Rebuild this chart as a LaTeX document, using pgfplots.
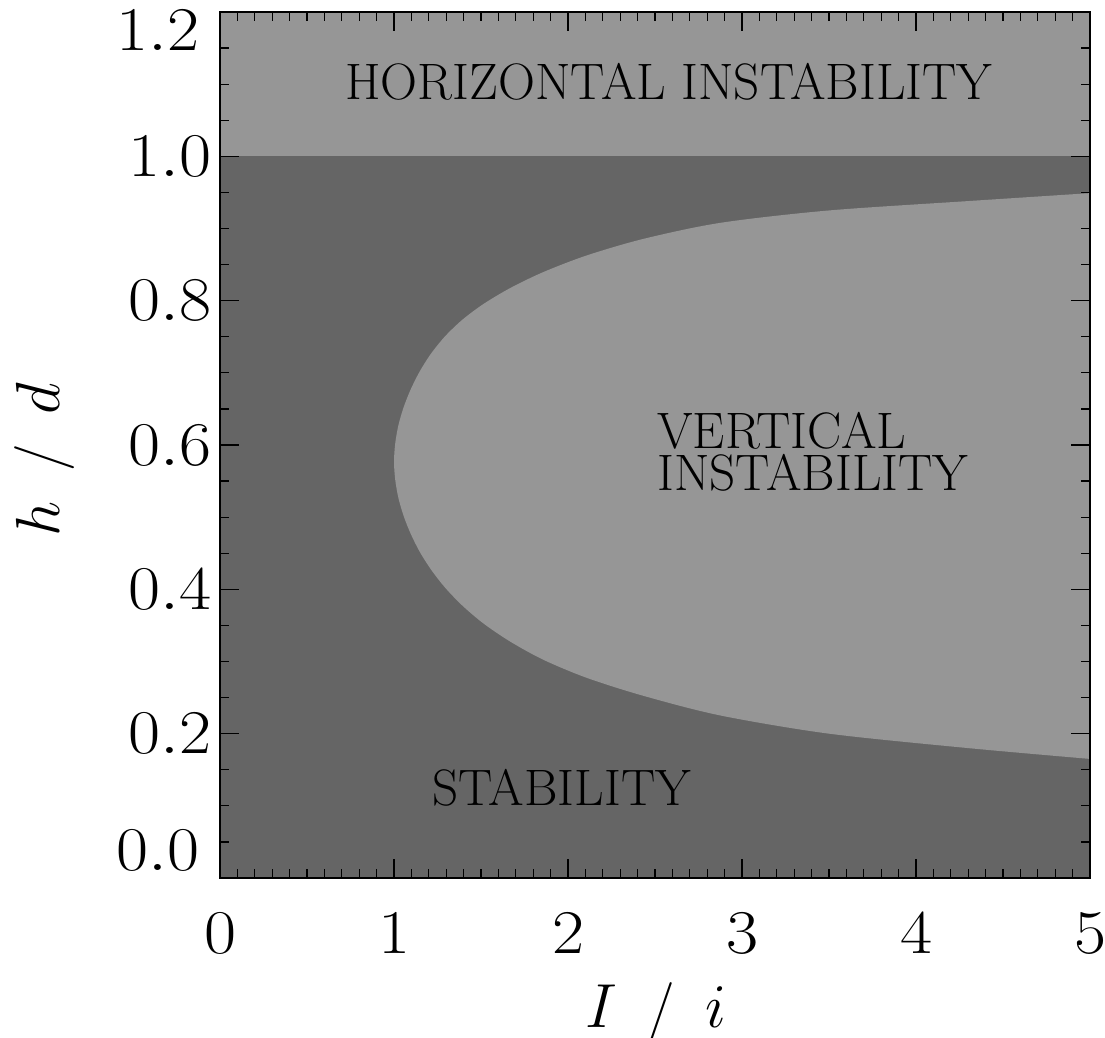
\documentclass[border=0pt]{standalone}
\usepackage{pgfplots}
\pgfplotsset{compat=1.18}
\definecolor{darkreg}{RGB}{101,101,101}
\definecolor{lightreg}{RGB}{150,150,150}
\newcommand{\tickfont}{\fontsize{24}{28}\selectfont}
\newcommand{\regfont}{\fontsize{20.5}{16.8}\selectfont}
\newcommand{\tl}[1]{\scalebox{1.12}[1]{$#1$}}
\pgfplotstableread{
x y
5.000 0.949
4.300 0.938
3.500 0.925
2.880 0.908
2.440 0.886
2.112 0.863
1.862 0.840
1.672 0.818
1.518 0.796
1.395 0.774
1.295 0.751
1.214 0.727
1.148 0.702
1.096 0.677
1.055 0.652
1.025 0.627
1.007 0.602
1.000 0.577
1.007 0.552
1.025 0.527
1.055 0.502
1.096 0.477
1.148 0.452
1.214 0.427
1.295 0.402
1.395 0.377
1.518 0.352
1.672 0.327
1.862 0.302
2.112 0.277
2.440 0.252
2.880 0.225
3.500 0.200
4.300 0.180
5.000 0.165
}\vertreg
\begin{document}
\begin{tikzpicture}
\begin{axis}[
  name=ax, scale only axis, width=348pt, height=346.4pt,
  xmin=0, xmax=5, ymin=0, ymax=1.2,
  clip=false,
  axis on top,
  axis background/.style={fill=darkreg},
  axis line style={line width=1pt, black},
  xtick={0,1,2,3,4,5}, minor x tick num=9,
  xticklabels={\tl{0},\tl{1},\tl{2},\tl{3},\tl{4},\tl{5}},
  ytick={0,0.2,0.4,0.6,0.8,1.0,1.2}, minor y tick num=3,
  yticklabels={{},\tl{0.2},\tl{0.4},\tl{0.6},\tl{0.8},\tl{1.0},{}},
  tick align=inside, tick pos=both,
  major tick length=7.5pt, minor tick length=3.8pt,
  every tick/.style={black, line width=0.5pt},
  tick label style={font=\tickfont},
  xticklabel style={yshift=-10.5pt},
  xlabel={$I$\hspace{0.5em}/\hspace{0.5em}$i$},
  ylabel={$h$\hspace{0.5em}/\hspace{0.5em}$d$},
  label style={font=\tickfont},
  xlabel style={at={(axis description cs:0.501,-0.173)}, anchor=base},
  ylabel style={at={(axis description cs:-0.184,0.483)}, anchor=base},
]
\addplot[fill=lightreg, draw=none] coordinates {(0,1) (5,1) (5,1.2) (0,1.2)} -- cycle;
\addplot[fill=lightreg, draw=none, smooth] table[x=x, y=y] {\vertreg} -- cycle;
\node[anchor=north east, inner sep=0pt, font=\tickfont, xshift=-8pt, yshift=0.8pt] at (axis cs:0,1.2) {\tl{1.2}};
\node[anchor=south east, inner sep=0pt, font=\tickfont, xshift=-8pt, yshift=3pt] at (axis cs:0,0) {\tl{0.0}};
\node[anchor=base west, inner sep=0pt, font=\regfont] at (axis cs:0.718,1.079) {HORIZONTAL INSTABILITY};
\node[anchor=north west, inner sep=0pt, font=\regfont, align=left] at (axis cs:2.511,0.646) {VERTICAL\\INSTABILITY};
\node[anchor=base west, inner sep=0pt, font=\regfont] at (axis cs:1.218,0.100) {STABILITY};
\end{axis}
\pgfresetboundingbox
\path[use as bounding box] (ax.south west) ++(-88pt,-64pt) rectangle ++(442pt,415.2pt);
\end{tikzpicture}
\end{document}
